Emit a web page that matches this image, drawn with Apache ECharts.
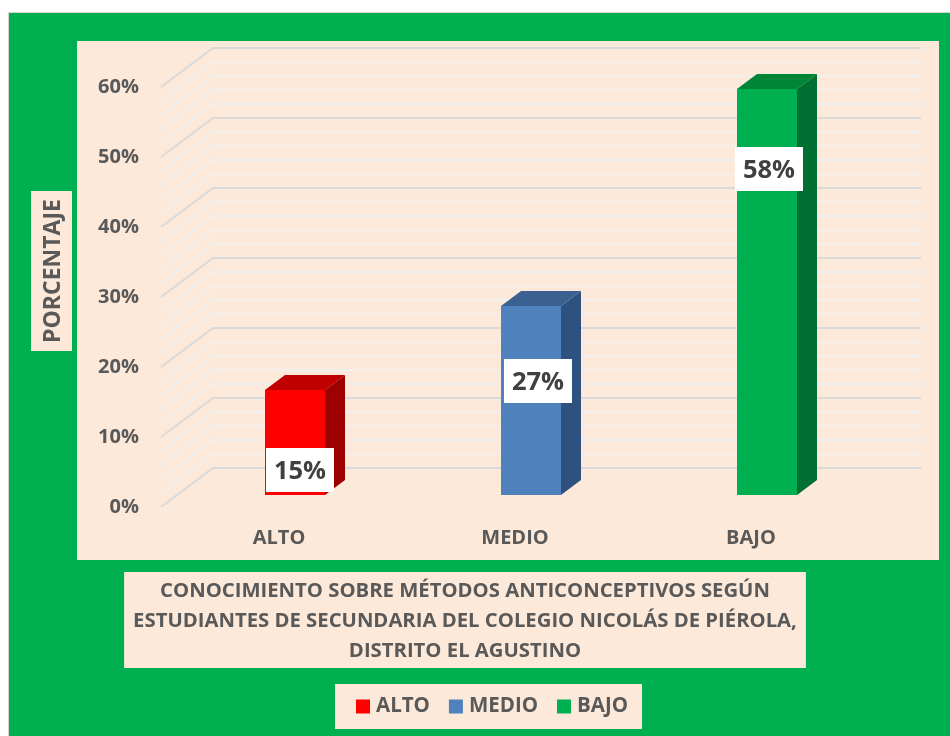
<!DOCTYPE html>
<html>
<head>
<meta charset="utf-8">
<script src="https://cdn.jsdelivr.net/npm/echarts@6/dist/echarts.min.js"></script>
<style>
  html, body { margin: 0; padding: 0; background: #fff; }
  #main { width: 950px; height: 736px; }
</style>
</head>
<body>
<div id="main"></div>
<script>
var categories = ['ALTO', 'MEDIO', 'BAJO'];
var values = [15, 27, 58];
var valueLabels = ['15%', '27%', '58%'];
var yTicks = [0, 10, 20, 30, 40, 50, 60];
var minorTicks = [2, 4, 6, 8, 12, 14, 16, 18, 22, 24, 26, 28, 32, 34, 36, 38, 42, 44, 46, 48, 52, 54, 56, 58];
var titleText = 'CONOCIMIENTO SOBRE MÉTODOS ANTICONCEPTIVOS SEGÚN\nESTUDIANTES DE SECUNDARIA DEL COLEGIO NICOLÁS DE PIÉROLA,\nDISTRITO EL AGUSTINO';
var yName = 'PORCENTAJE';

var FONT = '"Open Sans"';
var CREAM = '#fde9d9';
var faces = [
  { front: '#ff0000', top: '#c00000', side: '#9c0000' },
  { front: '#4f81bd', top: '#3b6190', side: '#2f5180' },
  { front: '#00b050', top: '#008436', side: '#006f32' }
];
// where the white label box sits relative to each bar
var labelDrop = [80, 75, 80];
var labelShift = [35, 37, 32];

function wallRender(major) {
  return function (params, api) {
    var x0 = params.coordSys.x;
    var x1 = x0 + params.coordSys.width;
    var y = api.coord([0, api.value(0)])[1];
    return {
      type: 'polyline',
      shape: { points: [[x0, y], [x0 + 52, y - 39], [x1 + 52, y - 39]] },
      style: { fill: null, stroke: major ? '#d9d9d9' : '#f2f0ee', lineWidth: 2 },
      silent: true
    };
  };
}

function barRender(idx) {
  return function (params, api) {
    var base = api.coord([idx, 0]);
    var top = api.coord([idx, api.value(0)]);
    var w = 60, dx = 20, dy = 15;
    var left = base[0] + 16 - w / 2;
    var yb = base[1] - 12;
    var yt = top[1] - 12;
    var c = faces[idx];
    var cx = left + labelShift[idx];
    var cy = yt + labelDrop[idx];
    return {
      type: 'group',
      children: [
        { type: 'polygon', shape: { points: [[left + w, yt], [left + w + dx, yt - dy], [left + w + dx, yb - dy], [left + w, yb]] }, style: { fill: c.side } },
        { type: 'polygon', shape: { points: [[left, yt], [left + dx, yt - dy], [left + w + dx, yt - dy], [left + w, yt]] }, style: { fill: c.top } },
        { type: 'rect', shape: { x: left, y: yt, width: w, height: yb - yt }, style: { fill: c.front } },
        { type: 'rect', shape: { x: cx - 34, y: cy - 22, width: 68, height: 44 }, style: { fill: '#fff' } },
        { type: 'text', style: { text: valueLabels[idx], x: cx, y: cy + 2, align: 'center', verticalAlign: 'middle', fill: '#404040', font: 'bold 25.5px ' + FONT } }
      ]
    };
  };
}

var series = [
  {
    type: 'custom', name: 'major', data: yTicks.map(function (v) { return [v]; }),
    encode: { y: 0 }, renderItem: wallRender(true), z: 2, silent: true
  },
  {
    type: 'custom', name: 'minor', data: minorTicks.map(function (v) { return [v]; }),
    encode: { y: 0 }, renderItem: wallRender(false), z: 1, silent: true
  }
];
categories.forEach(function (name, i) {
  series.push({
    type: 'custom',
    name: name,
    itemStyle: { color: faces[i].front },
    data: [[values[i]]],
    encode: { y: 0 },
    renderItem: barRender(i),
    z: 5
  });
});

var myChart = echarts.init(document.getElementById('main'));
var option = {
  animation: false,
  backgroundColor: '#fff',
  textStyle: { fontFamily: FONT },
  graphic: [
    { type: 'rect', z: -10, shape: { x: 8.5, y: 12.5, width: 950, height: 730 }, style: { fill: '#00b050', stroke: '#d4d4d4', lineWidth: 1 } },
    { type: 'rect', z: -9, shape: { x: 77, y: 41, width: 862, height: 519 }, style: { fill: CREAM } },
    { type: 'rect', z: -9, shape: { x: 31, y: 191, width: 41, height: 160 }, style: { fill: CREAM } },
    {
      type: 'text', z: 5, x: 53, y: 271, rotation: Math.PI / 2,
      style: { text: yName, align: 'center', verticalAlign: 'middle', fill: '#595959', font: 'bold 23px ' + FONT }
    }
  ],
  title: {
    text: titleText,
    left: 456,
    top: 572,
    padding: [4, 9, 2, 9],
    backgroundColor: CREAM,
    textAlign: 'center',
    textStyle: { color: '#595959', fontFamily: FONT, fontWeight: 'bold', fontSize: 20.3, lineHeight: 30 }
  },
  legend: {
    data: categories,
    left: 335,
    top: 684,
    padding: [12, 14, 12, 21],
    backgroundColor: CREAM,
    icon: 'rect',
    itemWidth: 14,
    itemHeight: 14,
    itemGap: 19,
    textStyle: { color: '#595959', fontFamily: FONT, fontWeight: 'bold', fontSize: 20.5, padding: [0, 0, 0, 1] }
  },
  grid: { left: 161, top: 87, width: 708, height: 420 },
  xAxis: {
    type: 'category',
    data: categories,
    axisLine: { show: false },
    axisTick: { show: false },
    axisLabel: { color: '#595959', fontFamily: FONT, fontWeight: 'bold', fontSize: 20, margin: 21 }
  },
  yAxis: {
    type: 'value',
    min: 0,
    max: 60,
    interval: 10,
    splitLine: { show: false },
    axisLine: { show: false },
    axisTick: { show: false },
    axisLabel: { color: '#595959', fontFamily: FONT, fontWeight: 'bold', fontSize: 20, margin: 22, padding: [4, 0, 0, 0], formatter: '{value}%' }
  },
  series: series
};
myChart.setOption(option);
</script>
</body>
</html>
